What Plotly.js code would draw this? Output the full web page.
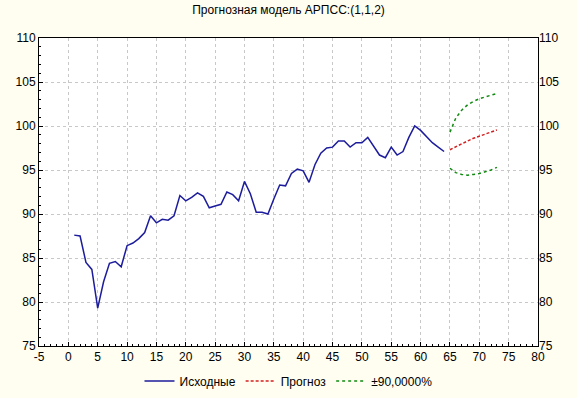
<!DOCTYPE html>
<html>
<head>
<meta charset="utf-8">
<script src="https://cdn.plot.ly/plotly-3.0.1.min.js"></script>
<style>html,body{margin:0;padding:0;background:#FFFEF0;}</style>
</head>
<body>
<div id="chart" style="width:577px;height:398px;"></div>
<script>
const obsX = [];
for (let i = 1; i <= 64; i++) obsX.push(i);
const obsY = [87.6, 87.5, 84.5, 83.7, 79.3, 82.3, 84.4, 84.6, 84.0, 86.4,
  86.7, 87.2, 87.9, 89.8, 89.0, 89.4, 89.3, 89.8, 92.1, 91.5,
  91.9, 92.4, 92.0, 90.7, 90.9, 91.1, 92.5, 92.2, 91.5, 93.7,
  92.3, 90.2, 90.2, 90.0, 91.7, 93.3, 93.2, 94.6, 95.1, 94.9,
  93.6, 95.6, 96.9, 97.5, 97.6, 98.3, 98.3, 97.6, 98.1, 98.1,
  98.7, 97.7, 96.7, 96.4, 97.6, 96.7, 97.1, 98.7, 100.0, 99.5,
  98.8, 98.1, 97.6, 97.1];
const fcX = [65, 66, 67, 68, 69, 70, 71, 72, 73];
const fcY = [97.3, 97.65, 98.0, 98.3, 98.6, 98.85, 99.1, 99.35, 99.55];
const upY = [99.3, 100.9, 101.8, 102.4, 102.8, 103.1, 103.3, 103.5, 103.7];
const loY = [95.2, 94.7, 94.5, 94.4, 94.5, 94.6, 94.8, 95.0, 95.3];
const names = ['Исходные', 'Прогноз', '±90,0000%'];
const xTicks = [-5, 0, 5, 10, 15, 20, 25, 30, 35, 40, 45, 50, 55, 60, 65, 70, 75, 80];
const xTickText = ['-5', '0', '5', '10', '15', '20', '25', '30', '35', '40', '45', '50', '55', '60', '65', '70', '75', '80'];

const traces = [
  {x: obsX, y: obsY, mode: 'lines', name: names[0], line: {color: '#1c1c9c', width: 1.5}},
  {x: fcX, y: fcY, mode: 'lines', name: names[1], line: {color: '#d42020', width: 1.5, dash: '3px,2px'}},
  {x: fcX, y: upY, mode: 'lines', name: names[2], legendgroup: 'ci', line: {color: '#138a13', width: 1.5, dash: 'dot'}},
  {x: fcX, y: loY, mode: 'lines', name: names[2], legendgroup: 'ci', showlegend: false, line: {color: '#138a13', width: 1.5, dash: 'dot'}},
  {x: [fcX[0]], y: [fcY[0]], yaxis: 'y2', mode: 'lines', showlegend: false, hoverinfo: 'skip', line: {width: 0}}
];

const fnt = {family: 'Liberation Sans, Arial, sans-serif', size: 12, color: '#000'};
const axisCommon = {
  showline: true, linecolor: '#000', linewidth: 1, mirror: true,
  ticks: 'inside', ticklen: 4, tickcolor: '#000', automargin: false,
  showgrid: true, gridcolor: '#c8c8c8', griddash: 'dot', gridwidth: 1,
  zeroline: false, tickfont: fnt,
  minor: {ticks: 'inside', ticklen: 2, tickcolor: '#000', dtick: 1, showgrid: false}
};

const layout = {
  width: 577, height: 398,
  paper_bgcolor: '#FFFEF0', plot_bgcolor: '#FFFFFF',
  margin: {l: 39, r: 39, t: 38, b: 52},
  title: {text: 'Прогнозная модель АРПСС:(1,1,2)', font: {family: 'Liberation Sans, Arial, sans-serif', size: 12, color: '#000'}, x: 0.5, xanchor: 'center', y: 0.975, yanchor: 'middle'},
  xaxis: Object.assign({}, axisCommon, {range: [-5, 80], tickmode: 'array', tickvals: xTicks, ticktext: xTickText}),
  yaxis: Object.assign({}, axisCommon, {range: [75, 110], dtick: 5, tick0: 75}),
  yaxis2: {overlaying: 'y', side: 'right', range: [75, 110], dtick: 5, tick0: 75, automargin: false, showgrid: false, zeroline: false, showline: false, ticks: '', tickfont: fnt},
  showlegend: true,
  legend: {orientation: 'h', x: 0.5, xanchor: 'center', xref: 'container', y: 0.043, yanchor: 'middle', yref: 'container', font: fnt, bgcolor: 'rgba(0,0,0,0)', itemwidth: 30},
  font: fnt
};

Plotly.newPlot('chart', traces, layout, {displayModeBar: false, staticPlot: true});
</script>
</body>
</html>
